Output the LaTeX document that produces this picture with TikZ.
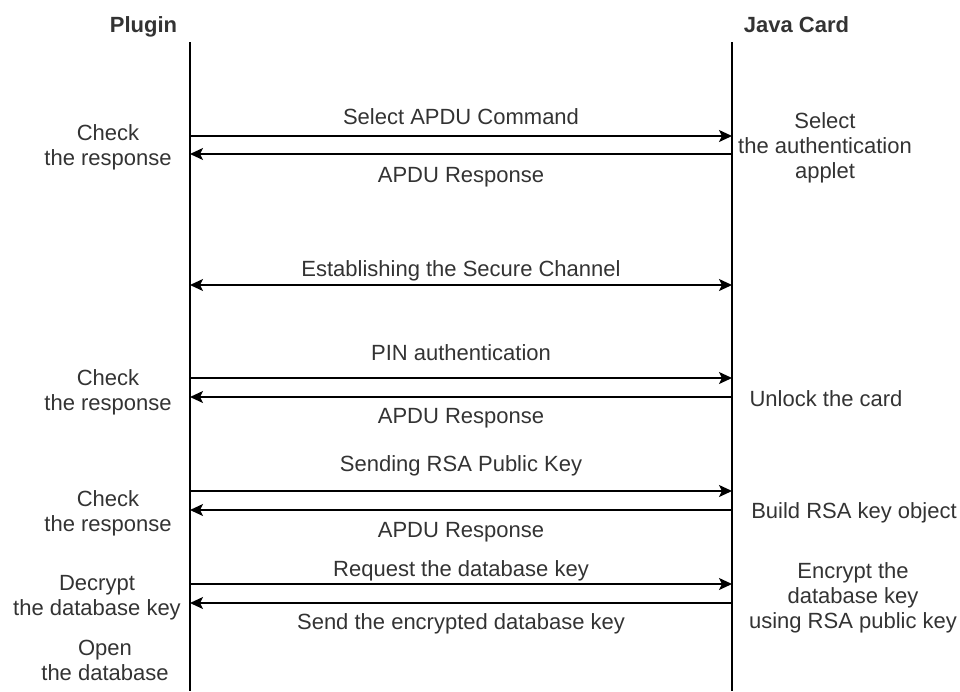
\documentclass[tikz,border=0pt]{standalone}
\usepackage{fontspec}
\setmainfont{Liberation Sans}
\usetikzlibrary{arrows.meta}
\begin{document}
\begin{tikzpicture}[x=1pt,y=-1pt,
  lifeline/.style={line width=1.6pt, draw=black},
  tipshape/.style={},
  msg/.style={line width=1.6pt, draw=black, -{Stealth[length=13pt,width=12pt,inset=3pt]}},
  twoway/.style={line width=1.6pt, draw=black, {Stealth[length=13pt,width=12pt,inset=3pt]}-{Stealth[length=13pt,width=12pt,inset=3pt]}},
  lbl/.style={font=\fontsize{22}{25}\selectfont, text=black!80, inner sep=0pt, anchor=north, align=center},
  head/.style={lbl, font=\fontsize{22}{25}\selectfont\bfseries}]
\useasboundingbox (0,0) rectangle (960,691);

% participants
\node[head] (plugin) at (143.5,16) {Plugin};
\node[head] (card) at (796.5,16) {Java Card};

% lifelines
\coordinate (pTop) at (190,42);
\coordinate (pBot) at (190,691);
\coordinate (jTop) at (732,42);
\coordinate (jBot) at (732,691);
\draw[lifeline] (pTop) -- (pBot);
\draw[lifeline] (jTop) -- (jBot);

% message anchor points on the two lifelines
\foreach \k/\y in {1/136,2/154,3/285,4/378,5/397,6/491,7/510,8/584,9/603}{
  \coordinate (p\k) at (190,\y);
  \coordinate (j\k) at (732,\y);
}

% messages
\draw[msg] (p1) -- (j1);
\draw[msg] (j2) -- (p2);
\draw[twoway] (p3) -- (j3);
\draw[msg] (p4) -- (j4);
\draw[msg] (j5) -- (p5);
\draw[msg] (p6) -- (j6);
\draw[msg] (j7) -- (p7);
\draw[msg] (p8) -- (j8);
\draw[msg] (j9) -- (p9);

% message labels
\node[lbl] (l1) at (461,108) {Select APDU Command};
\node[lbl] (l2) at (461,167) {APDU Response};
\node[lbl] (l3) at (461,260) {Establishing the Secure Channel};
\node[lbl] (l4) at (461,344) {PIN authentication};
\node[lbl] (l5) at (461,408) {APDU Response};
\node[lbl] (l6) at (461,455) {Sending RSA Public Key};
\node[lbl] (l7) at (461,522) {APDU Response};
\node[lbl] (l8) at (461,560) {Request the database key};
\node[lbl] (l9) at (461,613) {Send the encrypted database key};

% plugin-side actions
\node[lbl] (a1) at (108,124) {Check\\the response};
\node[lbl] (a2) at (108,369) {Check\\the response};
\node[lbl] (a3) at (108,490) {Check\\the response};
\node[lbl] (a4) at (97,575) {Decrypt\\the database key};
\node[lbl] (a5) at (105,640) {Open\\the database};

% card-side actions
\node[lbl] (b1) at (825,112) {Select\\the authentication\\applet};
\node[lbl] (b2) at (826,390) {Unlock the card};
\node[lbl] (b3) at (854,502) {Build RSA key object};
\node[lbl] (b4) at (853,562) {Encrypt the\\database key\\using RSA public key};
\end{tikzpicture}
\end{document}
